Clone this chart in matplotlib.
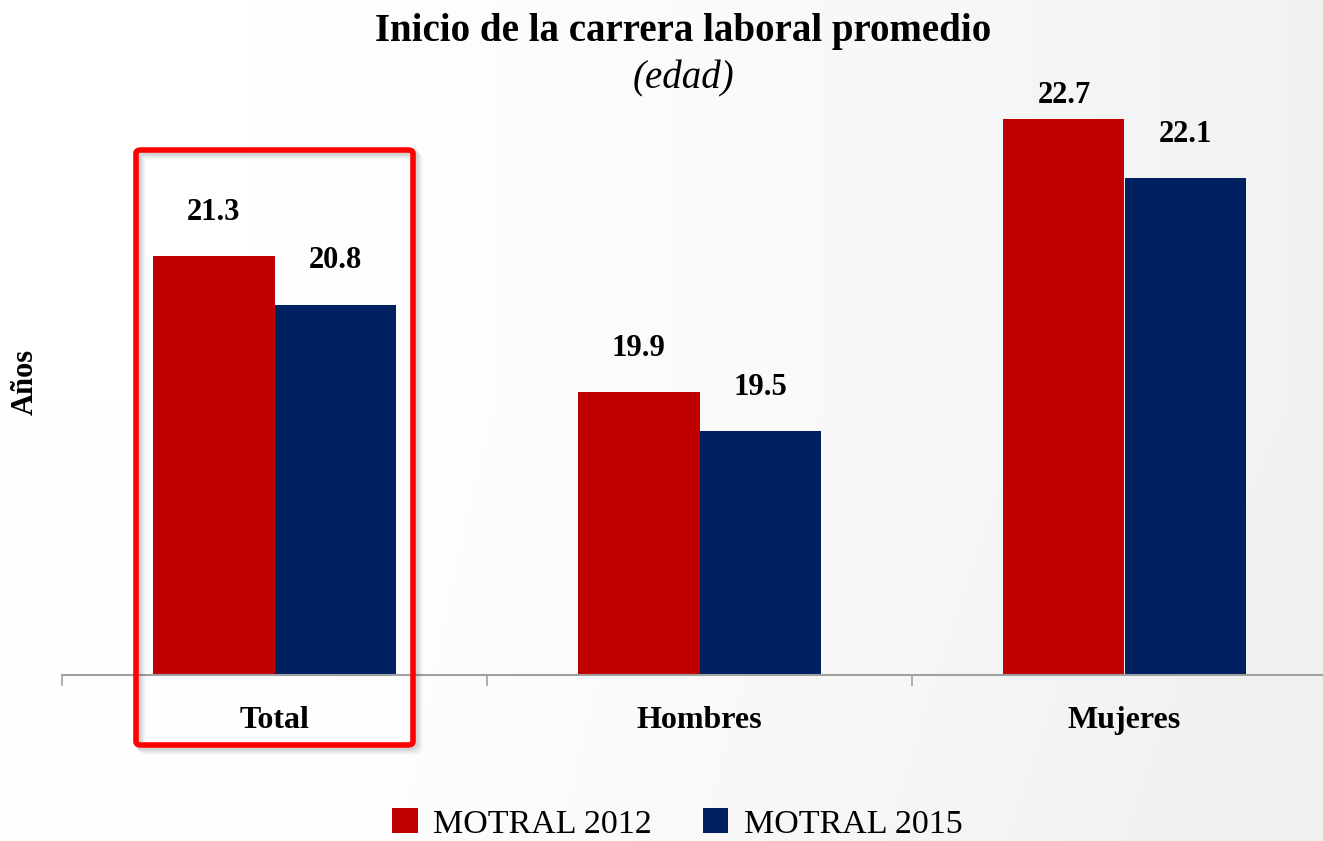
import numpy as np
import matplotlib
matplotlib.use("Agg")
import matplotlib.pyplot as plt
from matplotlib.patches import FancyBboxPatch

categories = ["Total", "Hombres", "Mujeres"]
series_names = ["MOTRAL 2012", "MOTRAL 2015"]
values_2012 = [21.3, 19.9, 22.7]
values_2015 = [20.8, 19.5, 22.1]
colors = ["#C00000", "#002060"]

W, H = 1323, 841
plt.rcParams['font.family'] = ['Liberation Serif', 'DejaVu Serif']

fig = plt.figure(figsize=(W / 100, H / 100), dpi=100)

# soft background: white at left, light grey towards the right
bg = fig.add_axes([0, 0, 1, 1], zorder=-10)
yy, xx = np.mgrid[0:H, 0:W]
t = np.clip((xx - 250) / 1100, 0, 1) ** 1.3 + 0.25 * np.clip((yy - 400) / 500, 0, 1) * (xx / W)
shade = 1.0 - 0.055 * np.clip(t, 0, 1)
rgb = np.dstack([shade, shade, shade])
bg.imshow(rgb, aspect="auto", extent=[0, 1, 0, 1], interpolation="bilinear")
bg.axis("off")

def px(x0, y0, x1, y1):
    return [x0 / W, 1 - y1 / H, (x1 - x0) / W, (y1 - y0) / H]

ax = fig.add_axes(px(62, 100, W, 675))
ax.patch.set_alpha(0)

x = np.arange(len(categories))
bw = 0.285
b1 = ax.bar(x - bw / 2, np.array(values_2012) - 17, bw, bottom=17, color=colors[0], label=series_names[0])
b2 = ax.bar(x + bw / 2, np.array(values_2015) - 17, bw, bottom=17, color=colors[1], label=series_names[1])

top = 17 + 575 / 97.5
for bars, vals in [(b1, values_2012), (b2, values_2015)]:
    for rect, v in zip(bars, vals):
        ax.text(rect.get_x() + rect.get_width() / 2, min(v + 0.3, top - 0.1), f"{v:.1f}",
                ha="center", va="bottom", fontsize=22, fontweight="bold", clip_on=False)

for s in ["top", "right", "left"]:
    ax.spines[s].set_visible(False)
ax.spines["bottom"].set_color("#a0a0a0")
ax.spines["bottom"].set_linewidth(1.5)
ax.set_yticks([])
ax.set_xticks([-0.5, 0.5, 1.5])
ax.set_xticklabels([])
ax.set_xticks(x, minor=True)
ax.set_xticklabels(categories, minor=True, fontsize=23, fontweight="bold")
ax.tick_params(axis="x", which="major", length=8, width=1.2, color="#a0a0a0")
ax.tick_params(axis="x", which="minor", length=0, pad=22)
ax.set_xlim(-0.5, -0.5 + (W - 62) / 425)
ax.set_ylim(17, top)

fig.text(25 / W, 1 - 382 / H, "Años", rotation=90, ha="center", va="center",
         fontsize=22, fontweight="bold")
fig.text(683 / W, 1 - 31 / H, "Inicio de la carrera laboral promedio", ha="center",
         va="center", fontsize=28, fontweight="bold")
fig.text(683 / W, 1 - 79 / H, "(edad)", ha="center", va="center",
         fontsize=28, fontstyle="italic")

# red highlight frame around "Total" with a soft shadow
for off, a in [(6, 0.04), (4, 0.06), (2, 0.08)]:
    sh = FancyBboxPatch(((136 + off) / W, 1 - (745 + off) / H), 277 / W, 595 / H,
                        boxstyle="round,pad=0,rounding_size=0.004", transform=fig.transFigure,
                        fill=False, edgecolor="black", alpha=a, linewidth=5)
    fig.patches.append(sh)
frame = FancyBboxPatch((136 / W, 1 - 745 / H), 277 / W, 595 / H,
                       boxstyle="round,pad=0,rounding_size=0.004", transform=fig.transFigure,
                       fill=False, edgecolor="#ff0000", linewidth=4)
fig.patches.append(frame)

fig.legend(handles=[b1, b2], labels=series_names, loc="lower center",
           bbox_to_anchor=(0.512, -0.035), ncol=2, frameon=False, fontsize=24.5,
           handlelength=0.75, handleheight=0.75, handletextpad=0.45, columnspacing=1.5)

fig.savefig("out.png", dpi=100)
